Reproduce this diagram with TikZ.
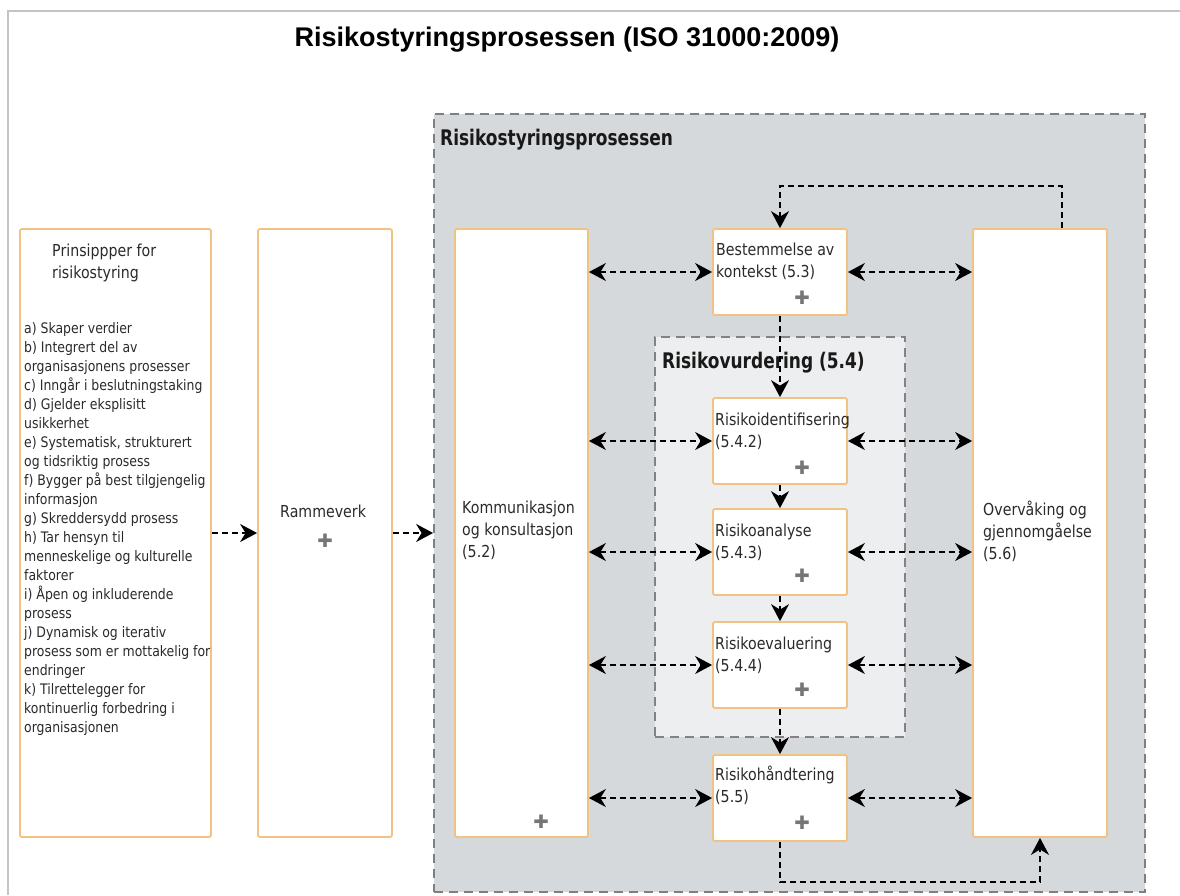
\documentclass[tikz,border=0pt]{standalone}
\usepackage{fontspec}
\setmainfont{DejaVu Sans}
\newfontfamily\boxfont[FakeStretch=0.86]{DejaVu Sans}
\newfontfamily\hdrfont[FakeStretch=0.79]{DejaVu Sans}
\newfontfamily\plusfont{DejaVu Sans}
\newfontfamily\titlefont{Liberation Sans}
\usetikzlibrary{arrows.meta}
\definecolor{procgray}{HTML}{D6D9DC}
\definecolor{vurdgray}{HTML}{EDEEEF}
\definecolor{boxorange}{HTML}{F2C282}
\definecolor{dashgray}{HTML}{7F7F7F}
\definecolor{vurddash}{HTML}{857F88}
\definecolor{txtgray}{HTML}{2A2A2A}
\definecolor{plusgray}{HTML}{767676}
\definecolor{framegray}{HTML}{C4C4C4}
\tikzset{
  bigtip/.tip={Stealth[length=17pt, width=18pt, inset=5.5pt]},
  pbox/.style={draw=boxorange, line width=1.8pt, fill=white, rounded corners=2pt, inner sep=0pt},
  procbox/.style={draw=dashgray, line width=1.8pt, fill=procgray, dash pattern=on 9pt off 6pt, inner sep=0pt},
  vurdbox/.style={draw=vurddash, line width=1.8pt, fill=vurdgray, dash pattern=on 9pt off 6pt, inner sep=0pt},
  lbl/.style={anchor=base west, inner sep=0pt, text=txtgray, align=left, font=\boxfont\fontsize{16.5}{22}\selectfont},
  listtxt/.style={anchor=base west, inner sep=0pt, text=txtgray, align=left, font=\boxfont\fontsize{14.5}{19}\selectfont},
  hdr/.style={anchor=base west, inner sep=0pt, text=black!90, font=\hdrfont\bfseries\fontsize{21.5}{24}\selectfont},
  plusmark/.style={inner sep=0pt, text=plusgray, font=\plusfont\fontsize{18.5}{18.5}\selectfont},
  dasharrow/.style={draw=black, line width=1.5pt, dash pattern=on 6pt off 4pt, {bigtip}-{bigtip}},
  flowarrow/.style={draw=black, line width=1.5pt, dash pattern=on 6pt off 4pt, -{bigtip}}
}
\begin{document}
\begin{tikzpicture}[x=1pt,y=-1pt]
\useasboundingbox (0,0) rectangle (1180,895);
\fill[white] (0,0) rectangle (1180,895);
\draw[framegray, line width=2pt] (8,895) -- (8,11) -- (1180,11);

\node[anchor=base, inner sep=0pt, font=\titlefont\bfseries\fontsize{27}{30}\selectfont] (title) at (567,46) {Risikostyringsprosessen (ISO 31000:2009)};

% process container
\node[procbox, minimum width=711pt, minimum height=778pt] (proc) at (789.5,503) {};
\node[hdr] (prochdr) at (440,145) {Risikostyringsprosessen};

% left boxes
\node[pbox, minimum width=191pt, minimum height=608pt] (prin) at (115.5,533) {};
\node[pbox, minimum width=134pt, minimum height=608pt] (ramme) at (325,533) {};
\node[pbox, minimum width=133pt, minimum height=608pt] (komm) at (521.5,533) {};
\node[pbox, minimum width=134pt, minimum height=608pt] (overv) at (1040,533) {};

% risk assessment container
\node[vurdbox, minimum width=250pt, minimum height=400pt] (vurd) at (780,537) {};
\node[hdr] (vurdhdr) at (662,368) {Risikovurdering (5.4)};

% step boxes
\node[pbox, minimum width=134pt, minimum height=86pt] (best) at (780,272) {};
\node[pbox, minimum width=134pt, minimum height=86pt] (ident) at (780,441) {};
\node[pbox, minimum width=134pt, minimum height=86pt] (anal) at (780,552) {};
\node[pbox, minimum width=134pt, minimum height=86pt] (eval) at (780,665) {};
\node[pbox, minimum width=134pt, minimum height=86pt] (hand) at (780,798) {};

% texts (anchor = baseline of the last line)
\node[lbl] (prinhdr) at (52,278) {Prinsippper for\\risikostyring};
\node[listtxt] (prinlist) at (24,732) {a) Skaper verdier\\b) Integrert del av\\organisasjonens prosesser\\c) Inngår i beslutningstaking\\d) Gjelder eksplisitt\\usikkerhet\\e) Systematisk, strukturert\\og tidsriktig prosess\\f) Bygger på best tilgjengelig\\informasjon\\g) Skreddersydd prosess\\h) Tar hensyn til\\menneskelige og kulturelle\\faktorer\\i) Åpen og inkluderende\\prosess\\j) Dynamisk og iterativ\\prosess som er mottakelig for\\endringer\\k) Tilrettelegger for\\kontinuerlig forbedring i\\organisasjonen};
\node[lbl] (rammetxt) at (280,517) {Rammeverk};
\node[lbl] (kommtxt) at (462,557) {Kommunikasjon\\og konsultasjon\\(5.2)};
\node[lbl] (overvtxt) at (983,559) {Overvåking og\\gjennomgåelse\\(5.6)};
\node[lbl] (besttxt) at (716,277) {Bestemmelse av\\kontekst (5.3)};
\node[lbl] (identtxt) at (715,447) {Risikoidentifisering\\(5.4.2)};
\node[lbl] (analtxt) at (715,558) {Risikoanalyse\\(5.4.3)};
\node[lbl] (evaltxt) at (715,671) {Risikoevaluering\\(5.4.4)};
\node[lbl] (handtxt) at (715,802) {Risikohåndtering\\(5.5)};

% plus marks
\node[plusmark] (rammeplus) at (325,541) {✚};
\node[plusmark] (kommplus) at (541,822) {✚};
\node[plusmark] (bestplus) at (802,298) {✚};
\node[plusmark] (identplus) at (802,468) {✚};
\node[plusmark] (analplus) at (802,576) {✚};
\node[plusmark] (evalplus) at (802,690) {✚};
\node[plusmark] (handplus) at (802,823) {✚};

% connectors
\draw[flowarrow] (prin.east) -- (ramme.west);
\draw[flowarrow] (ramme.east) -- (ramme.east -| proc.west);

\foreach \s in {best,ident,anal,eval,hand}{
  \draw[dasharrow] (komm.east |- \s.west) -- (\s.west);
  \draw[dasharrow] (\s.east) -- (overv.west |- \s.east);
}
\draw[flowarrow] (best.south) -- (ident.north);
\draw[flowarrow] (ident.south) -- (anal.north);
\draw[flowarrow] (anal.south) -- (eval.north);
\draw[flowarrow] (eval.south) -- (hand.north);

\coordinate (fbtop) at (1062,186);
\coordinate (fbbot) at (1040,882);
\draw[flowarrow] (overv.north -| fbtop) -- (fbtop) -- (fbtop -| best.north) -- (best.north);
\draw[flowarrow] (hand.south) -- (hand.south |- fbbot) -- (fbbot) -- (overv.south);
\end{tikzpicture}
\end{document}
